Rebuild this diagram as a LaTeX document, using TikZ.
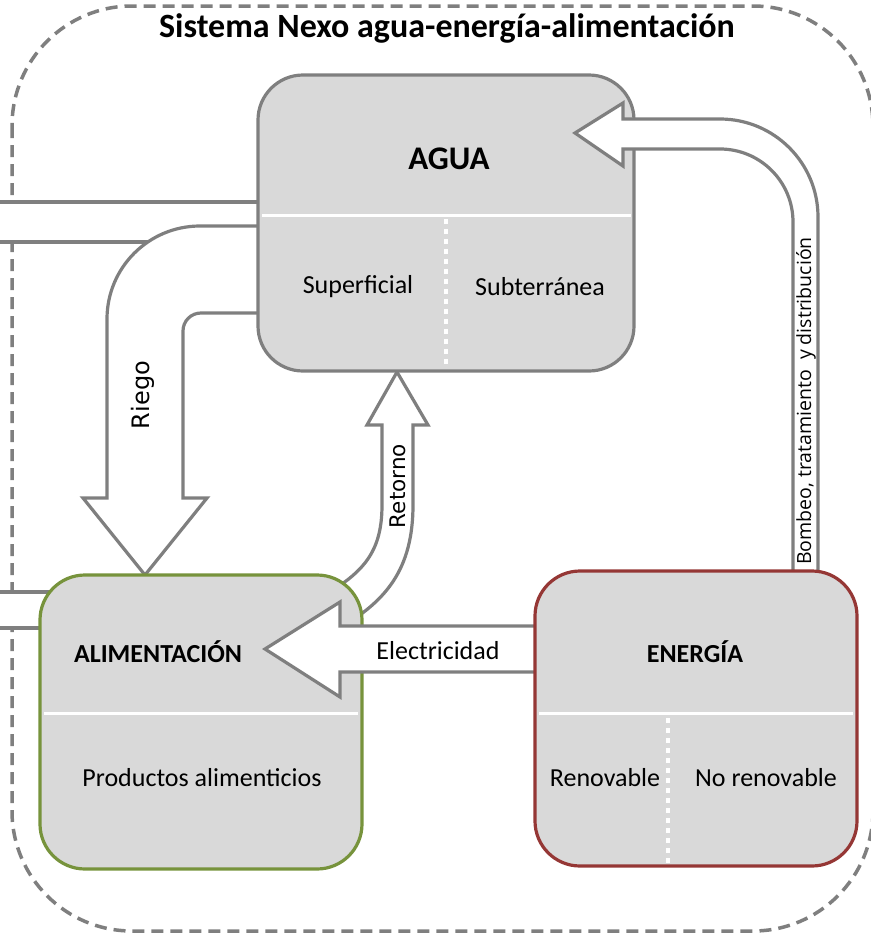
\documentclass[tikz,border=0pt]{standalone}
\usepackage{fontspec}
\setmainfont{Carlito}
\newfontfamily\dejavu{DejaVu Sans}
\newfontfamily\opensans{Open Sans}
\definecolor{linegray}{HTML}{7F7F7F}
\definecolor{boxfill}{HTML}{D9D9D9}
\definecolor{foodgreen}{HTML}{77933C}
\definecolor{energyred}{HTML}{953735}
\begin{document}
\begin{tikzpicture}[x=1pt,y=-1pt,
  box/.style={draw, line width=3.2pt, fill=boxfill, rounded corners=45pt, inner sep=0pt},
  blockarrow/.style={draw=linegray, fill=white, line width=3.2pt, line join=miter},
  sepline/.style={white, line width=3pt},
  dotline/.style={white, line width=4pt, dash pattern=on 5pt off 5pt},
  headtxt/.style={font=\bfseries\fontsize{26}{31}\selectfont},
  bodytxt/.style={font=\fontsize{26}{31}\selectfont},
  flowtxt/.style={font=\dejavu\fontsize{21.5}{26}\selectfont, rotate=90}]
\useasboundingbox (0,0) rectangle (871,938);

% system boundary
\draw[linegray, line width=3.5pt, dash pattern=on 12pt off 7pt, rounded corners=120pt]
  (12,6) rectangle (873,931);
\node[font=\bfseries\fontsize{34}{40}\selectfont] (title) at (447,28)
  {Sistema Nexo agua-energía-alimentación};

% inflows entering from the left edge
\fill[white] (-5,202) rectangle (270,242);
\draw[linegray, line width=3.2pt] (-5,202) -- (270,202) (-5,242) -- (270,242);
\fill[white] (-5,592) rectangle (60,628);
\draw[linegray, line width=3.2pt] (-5,592) -- (60,592) (-5,628) -- (60,628);

% Riego: water to food
\draw[blockarrow] (270,226) -- (200,226)
  .. controls (148.6,226) and (107,267.6) .. (107,319)
  -- (107,498) -- (83,498) -- (145,575) -- (207,498) -- (183,498)
  -- (183,331) .. controls (183,321) and (191,313) .. (201,313)
  -- (270,313) -- cycle;

% Retorno: food back to water
\draw[blockarrow] (330,592) .. controls (365,570) and (382,550) .. (382,505)
  -- (382,425) -- (367,425) -- (397,372) -- (428,425) -- (413,425)
  -- (413,505) .. controls (413,570) and (385,600) .. (345,625) -- cycle;

% boxes
\node[box, draw=linegray, minimum width=376pt, minimum height=296pt] (agua) at (446,223) {};
\draw[sepline] (262,215) -- (631,215);
\draw[dotline] (446,219) -- (446,368);

\node[box, draw=foodgreen, minimum width=322pt, minimum height=294pt] (alim) at (201,722) {};
\draw[sepline] (44,713) -- (358,713);

% Electricidad: energy to food
\draw[blockarrow] (545,626) -- (340,626) -- (340,602) -- (265,649) -- (340,697)
  -- (340,672) -- (545,672) -- cycle;

% Bombeo: energy to water
\draw[blockarrow] (793,585) -- (793,222)
  .. controls (793,181.7) and (760.3,149) .. (720,149)
  -- (623,149) -- (623,166) -- (575,133) -- (623,103) -- (623,119) -- (720,119)
  .. controls (774.1,119) and (818,162.9) .. (818,217) -- (818,585) -- cycle;

\node[box, draw=energyred, minimum width=322pt, minimum height=295pt] (ener) at (696,718.5) {};
\draw[sepline] (539,713) -- (853,713);
\draw[dotline] (668,718) -- (668,864);

% labels
\node[font=\bfseries\fontsize{33}{39}\selectfont] (aguaT) at (449,159) {AGUA};
\node[bodytxt] (sup) at (358,287) {Superficial};
\node[bodytxt] (sub) at (540,287) {Subterránea};
\node[headtxt] (alimT) at (158,652) {ALIMENTACIÓN};
\node[bodytxt] (prod) at (202,778) {Productos alimenticios};
\node[headtxt] (enerT) at (695,652) {ENERGÍA};
\node[bodytxt] (ren) at (605,778) {Renovable};
\node[bodytxt] (noren) at (766,778) {No renovable};
\node[flowtxt, font=\dejavu\fontsize{24}{28}\selectfont] (riegoT) at (143,395) {Riego};
\node[flowtxt] (retT) at (398,486) {Retorno};
\node[font=\fontsize{26}{31}\selectfont] (elecT) at (438,651) {Electricidad};
\node[font=\opensans\fontsize{19.5}{23}\selectfont, rotate=90] (bombT) at (806,401)
  {Bombeo, tratamiento\ \ y distribución};
\end{tikzpicture}
\end{document}
